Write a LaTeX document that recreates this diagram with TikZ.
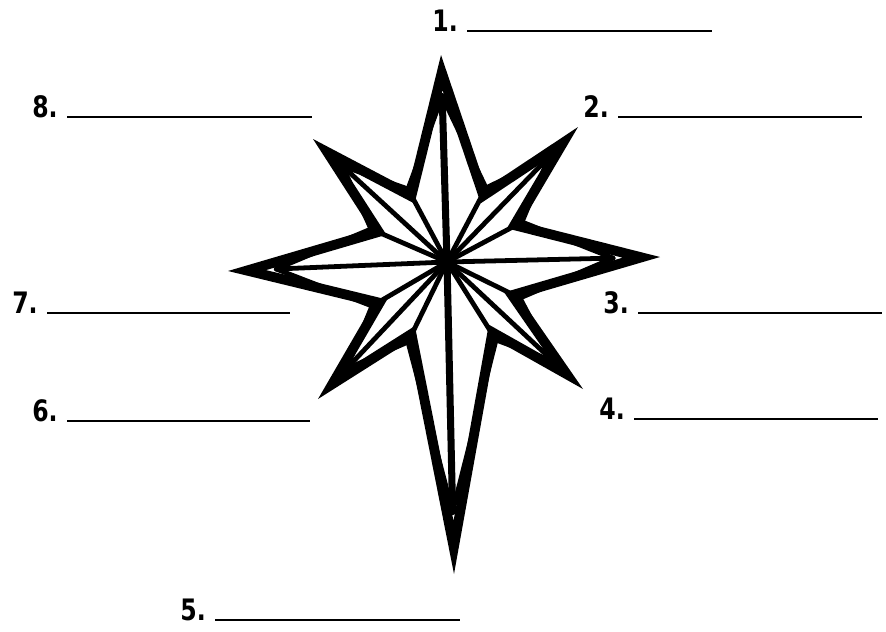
\documentclass[tikz,border=0pt]{standalone}
\usepackage{fontspec}
\setmainfont{DejaVu Sans}[FakeStretch=0.8]
\usetikzlibrary{calc}

\begin{document}
\begin{tikzpicture}[x=0.025cm, y=-0.025cm,
  rim/.style={line width=14pt, line join=miter},
  rib/.style={line width=3.4pt, line join=round, line cap=round},
  spine/.style={line width=5pt, line cap=round},
  num/.style={font=\bfseries\fontsize{21}{21}\selectfont, inner sep=0pt, anchor=base east},
  blank/.style={line width=1.5pt}]

\useasboundingbox (0,0) rectangle (886,631);

% star points and valleys
\coordinate (c) at (447,262);
\coordinate (t1) at (441,55);
\coordinate (t2) at (578,127);
\coordinate (t3) at (660,257);
\coordinate (t4) at (583,389);
\coordinate (t5) at (454,574);
\coordinate (t6) at (318,399);
\coordinate (t7) at (228,271);
\coordinate (t8) at (313,139);
\coordinate (v12) at (486,188);
\coordinate (v23) at (522,222);
\coordinate (v34) at (520,298);
\coordinate (v45) at (496,340);
\coordinate (v56) at (408,342);
\coordinate (v67) at (372,306);
\coordinate (v78) at (371,229);
\coordinate (v81) at (408,189);

% inner tips
\coordinate (p1) at ($(t1)!0.2!(c)$);
\coordinate (p2) at ($(t2)!0.22!(c)$);
\coordinate (p3) at ($(t3)!0.22!(c)$);
\coordinate (p4) at ($(t4)!0.22!(c)$);
\coordinate (p5) at ($(t5)!0.2!(c)$);
\coordinate (p6) at ($(t6)!0.22!(c)$);
\coordinate (p7) at ($(t7)!0.22!(c)$);
\coordinate (p8) at ($(t8)!0.22!(c)$);

% thick rim, only its inner half shows
\begin{scope}
\clip (t1) -- (v12) -- (t2) -- (v23) -- (t3) -- (v34) -- (t4) -- (v45)
  -- (t5) -- (v56) -- (t6) -- (v67) -- (t7) -- (v78) -- (t8) -- (v81) -- cycle;
\draw[rim] (t1) -- (v12) -- (t2) -- (v23) -- (t3) -- (v34) -- (t4) -- (v45)
  -- (t5) -- (v56) -- (t6) -- (v67) -- (t7) -- (v78) -- (t8) -- (v81) -- cycle;
\end{scope}

% facets
\draw[rib] (v81) -- (p1) -- (v12);
\draw[rib] (v12) -- (p2) -- (v23);
\draw[rib] (v23) -- (p3) -- (v34);
\draw[rib] (v34) -- (p4) -- (v45);
\draw[rib] (v45) -- (p5) -- (v56);
\draw[rib] (v56) -- (p6) -- (v67);
\draw[rib] (v67) -- (p7) -- (v78);
\draw[rib] (v78) -- (p8) -- (v81);
\draw[rib] (v12) -- (c) (v23) -- (c) (v34) -- (c) (v45) -- (c)
  (v56) -- (c) (v67) -- (c) (v78) -- (c) (v81) -- (c);
\draw[rib] (p2) -- (c) (p3) -- (c) (p4) -- (c) (p6) -- (c) (p7) -- (c) (p8) -- (c);
\draw[spine] (p1) -- (c) (p5) -- (c);
\fill (c) circle (9);

% numbered blanks
\node[num] (n1) at (458,31) {1.};
\node[num] (n2) at (609,117) {2.};
\node[num] (n3) at (629,313) {3.};
\node[num] (n4) at (625,419) {4.};
\node[num] (n5) at (206,620) {5.};
\node[num] (n6) at (58,421) {6.};
\node[num] (n7) at (38,313) {7.};
\node[num] (n8) at (58,117) {8.};
\coordinate (e1) at (712,31);
\coordinate (e2) at (862,117);
\coordinate (e3) at (882,313);
\coordinate (e4) at (878,419);
\coordinate (e5) at (460,620);
\coordinate (e6) at (310,421);
\coordinate (e7) at (290,313);
\coordinate (e8) at (312,117);
\draw[blank] (n1.base east) ++(9,0) -- (e1);
\draw[blank] (n2.base east) ++(9,0) -- (e2);
\draw[blank] (n3.base east) ++(9,0) -- (e3);
\draw[blank] (n4.base east) ++(9,0) -- (e4);
\draw[blank] (n5.base east) ++(9,0) -- (e5);
\draw[blank] (n6.base east) ++(9,0) -- (e6);
\draw[blank] (n7.base east) ++(9,0) -- (e7);
\draw[blank] (n8.base east) ++(9,0) -- (e8);
\end{tikzpicture}
\end{document}
